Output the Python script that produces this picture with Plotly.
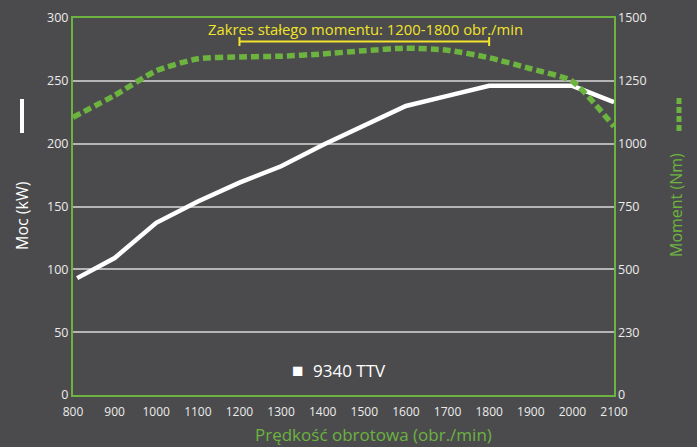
import plotly.graph_objects as go

rpm_power = [810, 900, 1000, 1100, 1200, 1300, 1400, 1500, 1600, 1700, 1800, 1900, 2000, 2100]
power_kw = [93, 109, 137, 154, 169, 182, 199, 215, 230, 238, 246, 246, 246, 233]

rpm_torque = [800, 900, 1000, 1100, 1200, 1300, 1400, 1500, 1600, 1700, 1800, 1900, 2000, 2100]
torque_nm = [1105, 1192, 1290, 1338, 1345, 1348, 1357, 1370, 1380, 1372, 1342, 1298, 1248, 1068]

x_ticks = list(range(800, 2101, 100))
left_ticks = [0, 50, 100, 150, 200, 250, 300]
right_ticks = [0, 250, 500, 750, 1000, 1250, 1500]
right_ticktext = ["0", "230", "500", "750", "1000", "1250", "1500"]

BG = "#4b4b4d"
GREEN = "#6cb33f"
YELLOW = "#f2e42a"
TXT = "#ececec"
FONT = "Open Sans"

fig = go.Figure()
fig.add_trace(go.Scatter(x=rpm_torque, y=torque_nm, yaxis="y2", mode="lines",
                         line=dict(color=GREEN, width=5.5, dash="8px,4px", shape="spline", smoothing=0.6),
                         showlegend=False, hoverinfo="skip"))
fig.add_trace(go.Scatter(x=rpm_power, y=power_kw, mode="lines",
                         line=dict(color="white", width=4.5),
                         showlegend=False, hoverinfo="skip"))

fig.update_layout(
    width=697, height=447,
    margin=dict(l=73, r=83, t=18, b=52, autoexpand=False),
    paper_bgcolor=BG, plot_bgcolor=BG,
    font=dict(family=FONT, color=TXT, size=12),
    xaxis=dict(range=[800, 2100], tickvals=x_ticks, showgrid=False, zeroline=False, automargin=False,
               showline=True, linecolor=GREEN, linewidth=2, mirror=True, ticklabelstandoff=5,
               tickfont=dict(size=12, color=TXT), ticks=""),
    yaxis=dict(range=[0, 300], tickvals=left_ticks, showgrid=True, gridcolor="#b5b5b5", gridwidth=1.5,
               zeroline=False, showline=True, linecolor=GREEN, linewidth=2, mirror=True, automargin=False,
               tickfont=dict(size=12.5, color=TXT), ticks=""),
    yaxis2=dict(range=[0, 1500], overlaying="y", side="right", tickvals=right_ticks, automargin=False,
                ticktext=right_ticktext, showgrid=False, zeroline=False, ticklabelstandoff=3,
                tickfont=dict(size=12.5, color=TXT), ticks=""),
)


def px_x(p):
    return (p - 73) / 541


def px_y(p):
    return (395 - p) / 377


annotations = [
    dict(text="Zakres stałego momentu: 1200-1800 obr./min", x=px_x(365), y=px_y(29), xref="paper", yref="paper",
         xanchor="center", yanchor="middle",
         showarrow=False, font=dict(size=14.8, color=YELLOW, family=FONT)),
    dict(text="■", x=px_x(297), y=px_y(370), xref="paper", yref="paper",
         xanchor="center", yanchor="middle",
         showarrow=False, font=dict(size=19, color="white", family=FONT)),
    dict(text="9340 TTV", x=px_x(349), y=px_y(370), xref="paper", yref="paper",
         xanchor="center", yanchor="middle",
         showarrow=False, font=dict(size=17, color="white", family=FONT)),
    dict(text="Moc (kW)", x=px_x(22), y=px_y(216), xref="paper", yref="paper",
         xanchor="center", yanchor="middle",
         textangle=-90, showarrow=False, font=dict(size=16, color="white", family=FONT)),
    dict(text="Moment (Nm)", x=px_x(676), y=px_y(205), xref="paper", yref="paper",
         xanchor="center", yanchor="middle",
         textangle=-90, showarrow=False, font=dict(size=16, color=GREEN, family=FONT)),
    dict(text="Prędkość obrotowa (obr./min)", x=px_x(373), y=px_y(435),
         xanchor="center", yanchor="middle",
         xref="paper", yref="paper", showarrow=False, font=dict(size=17, color=GREEN, family=FONT)),
]
fig.update_layout(annotations=annotations)

shapes = [
    dict(type="line", x0=1200, x1=1800, y0=px_y(41.5), y1=px_y(41.5), xref="x", yref="paper",
         line=dict(color=YELLOW, width=2)),
    dict(type="line", x0=1200, x1=1200, y0=px_y(37), y1=px_y(46), xref="x", yref="paper",
         line=dict(color=YELLOW, width=2)),
    dict(type="line", x0=1800, x1=1800, y0=px_y(37), y1=px_y(46), xref="x", yref="paper",
         line=dict(color=YELLOW, width=2)),
    dict(type="line", x0=px_x(22), x1=px_x(22), y0=px_y(99), y1=px_y(133),
         xref="paper", yref="paper", line=dict(color="white", width=4)),
    dict(type="line", x0=px_x(679), x1=px_x(679), y0=px_y(98), y1=px_y(134),
         xref="paper", yref="paper", line=dict(color=GREEN, width=5, dash="6px,3px")),
]
fig.update_layout(shapes=shapes)

fig.write_html("out.html", config={"displayModeBar": False},
               post_script="document.body.style.margin='0';document.body.style.background='#4b4b4d';")
